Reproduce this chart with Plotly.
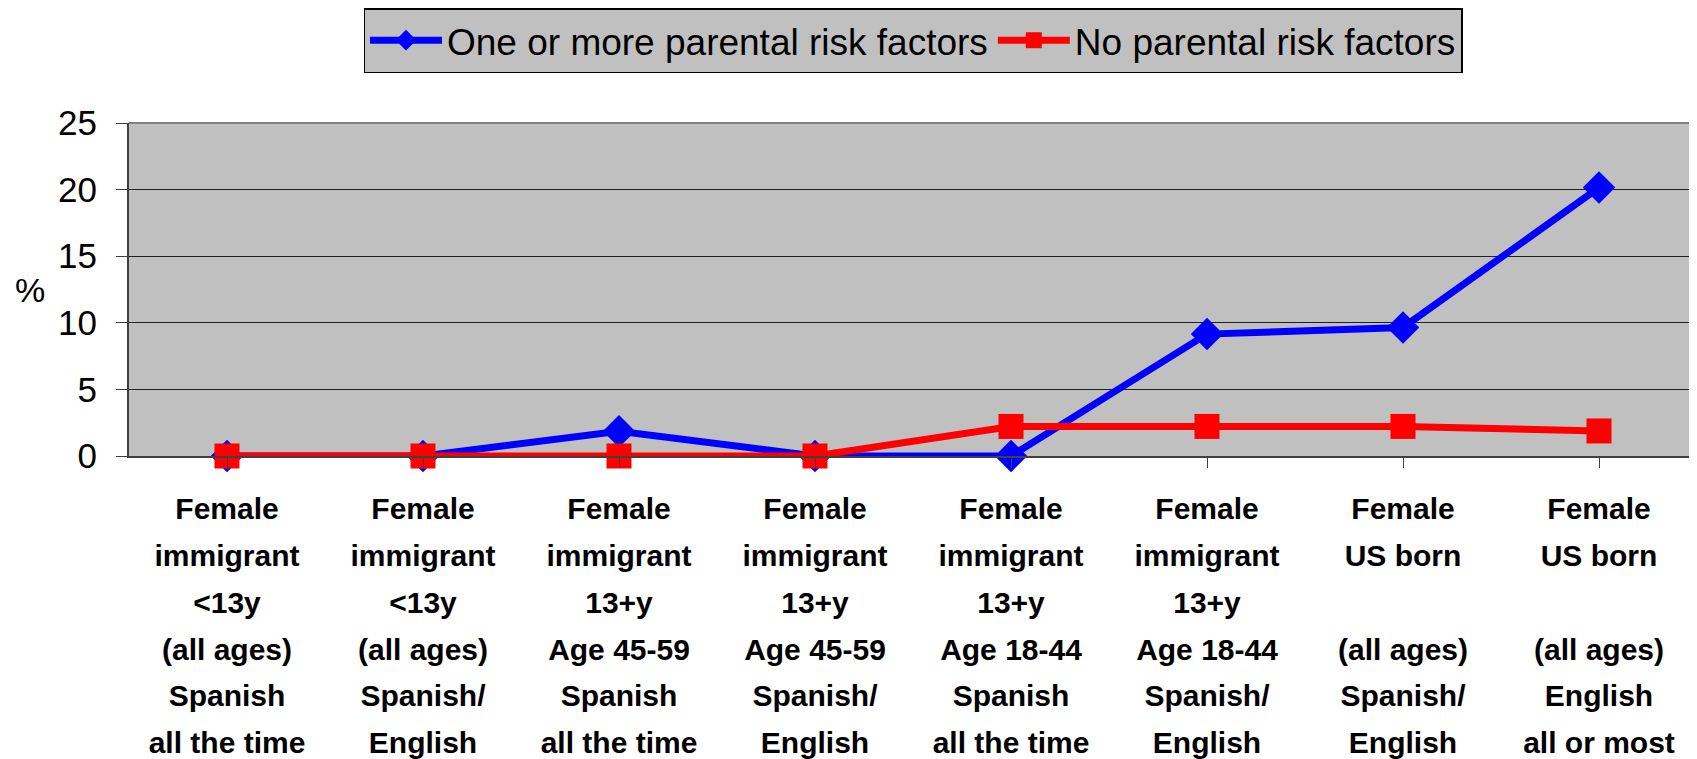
import plotly.graph_objects as go

categories = [
    ["Female", "immigrant", "<13y", "(all ages)", "Spanish", "all the time"],
    ["Female", "immigrant", "<13y", "(all ages)", "Spanish/", "English"],
    ["Female", "immigrant", "13+y", "Age 45-59", "Spanish", "all the time"],
    ["Female", "immigrant", "13+y", "Age 45-59", "Spanish/", "English"],
    ["Female", "immigrant", "13+y", "Age 18-44", "Spanish", "all the time"],
    ["Female", "immigrant", "13+y", "Age 18-44", "Spanish/", "English"],
    ["Female", "US born", "", "(all ages)", "Spanish/", "English"],
    ["Female", "US born", "", "(all ages)", "English", "all or most"],
]
series_names = ["One or more parental risk factors", "No parental risk factors"]
risk_values = [0, 0, 1.85, 0, 0, 9.15, 9.65, 20.15]
no_risk_values = [0, 0, 0, 0, 2.22, 2.22, 2.22, 1.88]
y_ticks = [0, 5, 10, 15, 20, 25]

FONT = "Arial, Liberation Sans, sans-serif"


def esc(s):
    return s.replace("&", "&amp;").replace("<", "&lt;").replace(">", "&gt;")


def label(lines):
    parts = []
    for ln in lines:
        t = esc(ln) if ln else "\u00a0"
        parts.append("<span style='font-size:30px'><b>" + t + "</b></span>")
    return "<br>".join(parts)


x_idx = list(range(len(categories)))
tick_text = [label(c) for c in categories]

fig = go.Figure()
fig.add_trace(go.Scatter(
    x=x_idx, y=risk_values, name=series_names[0], mode="lines+markers",
    line=dict(color="#0000ff", width=7),
    marker=dict(symbol="diamond", size=25, color="#0000ff"),
    cliponaxis=False,
))
fig.add_trace(go.Scatter(
    x=x_idx, y=no_risk_values, name=series_names[1], mode="lines+markers",
    line=dict(color="#ff0000", width=7),
    marker=dict(symbol="square", size=25, color="#ff0000"),
    cliponaxis=False,
))

# page body has an 8px margin, so the figure is 8px smaller and offset by 8px
fig.update_layout(
    width=1689, height=751,
    margin=dict(l=121, r=0, t=115, b=303, autoexpand=False),
    paper_bgcolor="white",
    plot_bgcolor="#c0c0c0",
    font=dict(family=FONT, color="black", size=35),
    showlegend=True,
    legend=dict(
        orientation="h", x=0.5, xanchor="center", y=1.345, yanchor="top",
        bgcolor="#c0c0c0", bordercolor="black", borderwidth=1.5,
        font=dict(size=37, family=FONT),
        itemwidth=72, tracegroupgap=0,
    ),
    xaxis=dict(
        range=[-0.5, 7.5],
        tickmode="array", tickvals=x_idx, ticktext=tick_text,
        tickson="boundaries", ticks="outside", ticklen=10, tickwidth=1,
        tickcolor="#404040",
        showline=True, linecolor="#404040", linewidth=2,
        showgrid=False, zeroline=False,
        tickfont=dict(size=36, family=FONT),
        tickangle=0,
        ticklabelstandoff=8,
        fixedrange=True,
    ),
    yaxis=dict(
        range=[0, 25],
        tickmode="array", tickvals=y_ticks,
        ticks="outside", ticklen=11, tickwidth=1, tickcolor="#404040",
        showline=True, linecolor="#404040", linewidth=2,
        showgrid=True, gridcolor="#202020", gridwidth=1,
        zeroline=False,
        tickfont=dict(size=35, family=FONT),
        ticklabelstandoff=12,
        fixedrange=True,
    ),
)

# top border line of plot area
fig.add_shape(type="line", xref="paper", yref="paper", x0=0, x1=1, y0=1, y1=1,
              line=dict(color="#808080", width=2))

fig.add_annotation(
    text="%", xref="paper", yref="paper", x=-0.063, y=0.5,
    xanchor="center", yanchor="middle", showarrow=False,
    font=dict(size=34, family=FONT, color="black"),
)

fig.write_html("out.html")
